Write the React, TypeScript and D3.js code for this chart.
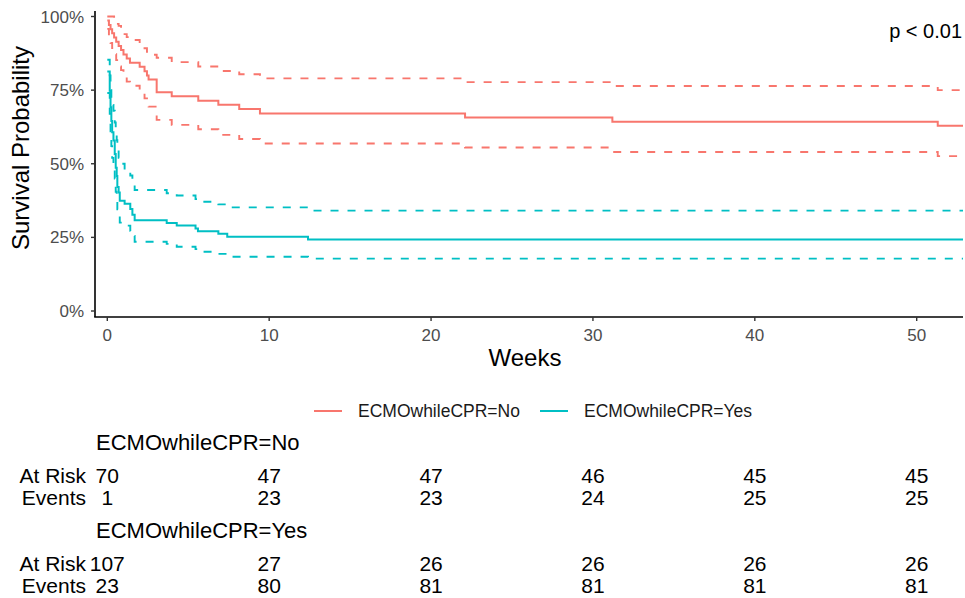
import React from 'react';
import * as d3 from 'd3';

// survival steps (weeks, probability)
const noTimes = [0, 0.1, 0.2, 0.3, 0.42, 0.55, 0.7, 0.85, 1.0, 1.2, 1.4, 2.0, 2.3, 2.45, 2.55, 3.05, 3.98, 5.62, 6.86, 8.15, 9.43, 22.1, 31.2, 51.3];
const noSurv = [0.986, 0.971, 0.957, 0.943, 0.929, 0.914, 0.9, 0.886, 0.871, 0.857, 0.843, 0.829, 0.814, 0.8, 0.786, 0.743, 0.729, 0.714, 0.7, 0.686, 0.671, 0.657, 0.643, 0.629];
const noUpper = [1.0, 1.0, 1.0, 1.0, 0.985, 0.975, 0.968, 0.955, 0.94, 0.93, 0.92, 0.905, 0.892, 0.88, 0.87, 0.86, 0.845, 0.83, 0.815, 0.804, 0.79, 0.777, 0.764, 0.75];
const noLower = [0.958, 0.933, 0.91, 0.893, 0.872, 0.852, 0.83, 0.818, 0.8, 0.779, 0.765, 0.745, 0.722, 0.705, 0.694, 0.649, 0.632, 0.617, 0.598, 0.584, 0.569, 0.555, 0.54, 0.526];

const yesTimes = [0, 0.15, 0.2, 0.25, 0.3, 0.38, 0.46, 0.52, 0.58, 0.62, 0.7, 0.77, 1.07, 1.42, 1.55, 1.69, 3.67, 4.29, 5.45, 5.6, 6.86, 7.41, 12.4];
const yesSurv = [0.813, 0.748, 0.692, 0.645, 0.607, 0.579, 0.533, 0.486, 0.458, 0.421, 0.402, 0.374, 0.364, 0.346, 0.327, 0.308, 0.299, 0.29, 0.28, 0.271, 0.262, 0.252, 0.243];
const yesUpper = [0.853, 0.8, 0.75, 0.72, 0.7, 0.68, 0.64, 0.6, 0.58, 0.55, 0.52, 0.5, 0.48, 0.46, 0.44, 0.411, 0.4, 0.392, 0.38, 0.371, 0.362, 0.352, 0.341];
const yesLower = [0.74, 0.67, 0.61, 0.56, 0.52, 0.495, 0.45, 0.405, 0.38, 0.345, 0.325, 0.3, 0.29, 0.272, 0.255, 0.235, 0.228, 0.218, 0.21, 0.201, 0.194, 0.184, 0.178];

const endWeek = 53;
const xTicks = [0, 10, 20, 30, 40, 50];
const yTicks = [0, 0.25, 0.5, 0.75, 1];

const riskTimes = [0, 10, 20, 30, 40, 50];
const noAtRisk = [70, 47, 47, 46, 45, 45];
const noEvents = [1, 23, 23, 24, 25, 25];
const yesAtRisk = [107, 27, 26, 26, 26, 26];
const yesEvents = [23, 80, 81, 81, 81, 81];

const groups = ['ECMOwhileCPR=No', 'ECMOwhileCPR=Yes'];
const colors = ['#F8766D', '#00BFC4'];

const FONT = '"Liberation Sans", Arial, sans-serif';

const x = d3.scaleLinear().domain([0, 50]).range([107.3, 916.7]);
const y = d3.scaleLinear().domain([0, 1]).range([311, 16.5]);

function stepPath(times: number[], vals: number[]) {
  const pts: [number, number][] = times.map((t, i) => [t, vals[i]]);
  pts.push([endWeek, vals[vals.length - 1]]);
  return d3.line<[number, number]>()
    .x(d => x(d[0]))
    .y(d => y(d[1]))
    .curve(d3.curveStepAfter)(pts) || '';
}

function App() {
  const series = [
    { t: noTimes, s: noSurv, u: noUpper, l: noLower, c: colors[0] },
    { t: yesTimes, s: yesSurv, u: yesUpper, l: yesLower, c: colors[1] },
  ];
  const tables = [
    { name: groups[0], risk: noAtRisk, ev: noEvents, top: 450 },
    { name: groups[1], risk: yesAtRisk, ev: yesEvents, top: 538 },
  ];
  const x0 = 95, x1 = 963, yb = 317;

  return (
    <svg width={965} height={598} style={{ position: 'absolute', left: 0, top: 0, background: '#fff' }} fontFamily={FONT}>
      <defs>
        <clipPath id="panel"><rect x={x0} y={0} width={x1 - x0} height={yb} /></clipPath>
      </defs>

      <g clipPath="url(#panel)" fill="none">
        {series.map((d, i) => (
          <g key={i} stroke={d.c}>
            <path d={stepPath(d.t, d.u)} strokeWidth={1.9} strokeDasharray="8,9" />
            <path d={stepPath(d.t, d.l)} strokeWidth={1.9} strokeDasharray="8,9" />
            <path d={stepPath(d.t, d.s)} strokeWidth={2} />
          </g>
        ))}
      </g>

      {/* axes */}
      <line x1={x0} x2={x0} y1={11} y2={yb} stroke="#000" strokeWidth={1.6} />
      <line x1={x0 - 0.8} x2={x1} y1={yb} y2={yb} stroke="#000" strokeWidth={1.6} />
      {yTicks.map(v => (
        <g key={v}>
          <line x1={x0 - 4} x2={x0} y1={y(v)} y2={y(v)} stroke="#333" strokeWidth={1.4} />
          <text x={x0 - 11} y={y(v) + 6} textAnchor="end" fontSize={17} fill="#4D4D4D">{d3.format('.0%')(v)}</text>
        </g>
      ))}
      {xTicks.map(v => (
        <g key={v}>
          <line x1={x(v)} x2={x(v)} y1={yb} y2={yb + 4} stroke="#333" strokeWidth={1.4} />
          <text x={x(v)} y={341} textAnchor="middle" fontSize={17} fill="#4D4D4D">{v}</text>
        </g>
      ))}
      <text transform="translate(29,148) rotate(-90)" textAnchor="middle" fontSize={24} fill="#000">Survival Probability</text>
      <text x={525} y={366} textAnchor="middle" fontSize={24} fill="#000">Weeks</text>
      <text x={962} y={38} textAnchor="end" fontSize={20} fill="#000">p &lt; 0.01</text>

      {/* legend */}
      {groups.map((g, i) => {
        const lx = i === 0 ? 314 : 540;
        return (
          <g key={g}>
            <line x1={lx} x2={lx + 28} y1={411} y2={411} stroke={colors[i]} strokeWidth={2} />
            <text x={lx + 44} y={417} fontSize={17.5} fill="#1A1A1A">{g}</text>
          </g>
        );
      })}

      {/* risk table */}
      {tables.map(tb => (
        <g key={tb.name} fontSize={21} fill="#000">
          <text x={96} y={tb.top} fontSize={22}>{tb.name}</text>
          <text x={86} y={tb.top + 33} textAnchor="end">At Risk</text>
          <text x={86} y={tb.top + 55} textAnchor="end">Events</text>
          {riskTimes.map((t, j) => (
            <g key={t}>
              <text x={x(t)} y={tb.top + 33} textAnchor="middle">{tb.risk[j]}</text>
              <text x={x(t)} y={tb.top + 55} textAnchor="middle">{tb.ev[j]}</text>
            </g>
          ))}
        </g>
      ))}
    </svg>
  );
}

export default App;
